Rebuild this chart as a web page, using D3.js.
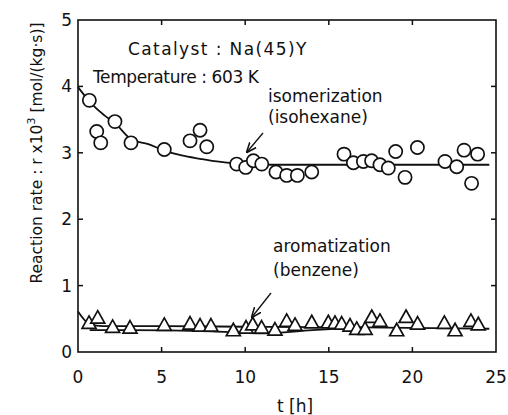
<!DOCTYPE html>
<html>
<head>
<meta charset="utf-8">
<script src="https://cdn.jsdelivr.net/npm/d3@7"></script>
<style>
  body { margin: 0; background: #fff; }
  svg { display: block; }
  text { font-family: "DejaVu Sans", sans-serif; fill: #111; }
</style>
</head>
<body>
<div id="viz"></div>
<script>
// isomerization (isohexane), circles
const isoT = [0.68, 1.12, 1.36, 2.21, 3.17, 5.16, 6.70, 7.30, 7.70, 9.49, 10.03, 10.49, 10.99, 11.84, 12.48, 13.12, 13.98,
  15.91, 16.47, 17.07, 17.56, 18.06, 18.56, 19.00, 19.56, 20.30, 21.95, 22.65, 23.09, 23.54, 23.90];
const isoR = [3.79, 3.32, 3.15, 3.47, 3.15, 3.05, 3.18, 3.34, 3.09, 2.83, 2.78, 2.88, 2.83, 2.71, 2.66, 2.66, 2.71,
  2.98, 2.85, 2.87, 2.88, 2.82, 2.77, 3.02, 2.63, 3.08, 2.87, 2.79, 3.04, 2.54, 2.98];

// aromatization (benzene), triangles
const aroT = [0.66, 1.18, 2.07, 3.11, 5.16, 6.70, 7.30, 7.95, 9.29, 10.05, 10.45, 10.98, 11.78, 12.48, 12.98, 13.98,
  14.97, 15.37, 15.77, 16.27, 16.67, 17.17, 17.57, 18.06, 19.06, 19.62, 20.31, 21.91, 22.55, 23.50, 23.94];
const aroR = [0.43, 0.51, 0.37, 0.36, 0.40, 0.42, 0.39, 0.39, 0.32, 0.36, 0.41, 0.36, 0.33, 0.46, 0.40, 0.44,
  0.44, 0.43, 0.42, 0.39, 0.34, 0.34, 0.52, 0.46, 0.32, 0.52, 0.42, 0.43, 0.32, 0.46, 0.41];

// fitted lines
const isoFitT = [0, 0.5, 1, 1.6, 2.2, 3.2, 4.2, 5.2, 6.2, 7.3, 8.3, 9.5, 10.5, 11.5, 24.6];
const isoFitR = [3.99, 3.83, 3.69, 3.56, 3.45, 3.2, 3.13, 3.03, 2.96, 2.91, 2.87, 2.84, 2.83, 2.82, 2.82];
const aroFitT = [0, 0.7, 1.5, 5, 10, 17, 24.6];
const aroFitR = [0.61, 0.42, 0.39, 0.39, 0.38, 0.37, 0.35];
const aroFit2T = [0.7, 3, 8, 11, 14, 17];
const aroFit2R = [0.33, 0.33, 0.31, 0.28, 0.33, 0.37];

const xTicks = [0, 5, 10, 15, 20, 25];
const yTicks = [0, 1, 2, 3, 4, 5];

const width = 508, height = 415;
const margin = { top: 20, right: 12, bottom: 63, left: 78 };

const svg = d3.select("#viz").append("svg")
  .attr("width", width)
  .attr("height", height);

const x = d3.scaleLinear().domain([0, 25]).range([margin.left, width - margin.right]);
const y = d3.scaleLinear().domain([0, 5]).range([height - margin.bottom, margin.top]);

// frame with inward ticks
svg.append("rect")
  .attr("x", x(0)).attr("y", y(5))
  .attr("width", x(25) - x(0)).attr("height", y(0) - y(5))
  .attr("fill", "none").attr("stroke", "#111").attr("stroke-width", 1.6);

const inner = xTicks.filter(d => d > 0 && d < 25);
const innerY = yTicks.filter(d => d > 0 && d < 5);
const tk = 5;
svg.append("g").selectAll("line").data(inner).join("line")
  .attr("x1", d => x(d)).attr("x2", d => x(d))
  .attr("y1", y(0)).attr("y2", y(0) - tk)
  .attr("stroke", "#111").attr("stroke-width", 1.5);
svg.append("g").selectAll("line").data(inner).join("line")
  .attr("x1", d => x(d)).attr("x2", d => x(d))
  .attr("y1", y(5)).attr("y2", y(5) + tk)
  .attr("stroke", "#111").attr("stroke-width", 1.5);
svg.append("g").selectAll("line").data(innerY).join("line")
  .attr("x1", x(0)).attr("x2", x(0) + tk)
  .attr("y1", d => y(d)).attr("y2", d => y(d))
  .attr("stroke", "#111").attr("stroke-width", 1.5);
svg.append("g").selectAll("line").data(innerY).join("line")
  .attr("x1", x(25)).attr("x2", x(25) - tk)
  .attr("y1", d => y(d)).attr("y2", d => y(d))
  .attr("stroke", "#111").attr("stroke-width", 1.5);

// tick labels
svg.append("g").selectAll("text").data(xTicks).join("text")
  .attr("x", d => x(d)).attr("y", y(0) + 31)
  .attr("text-anchor", "middle")
  .attr("font-size", "17px")
  .text(d => d);
svg.append("g").selectAll("text").data(yTicks).join("text")
  .attr("x", x(0) - 6).attr("y", d => y(d) + 6)
  .attr("text-anchor", "end")
  .attr("font-size", "17px")
  .text(d => d);

// axis titles
svg.append("text")
  .attr("x", 295).attr("y", 412)
  .attr("text-anchor", "middle")
  .attr("font-size", "17px")
  .text("t [h]");

const yl = svg.append("text")
  .attr("transform", "translate(42,153) rotate(-90)")
  .attr("text-anchor", "middle")
  .attr("font-size", "15.5px");
yl.append("tspan").text("Reaction rate : r x10");
yl.append("tspan").attr("dy", -7).attr("font-size", "11px").text("3");
yl.append("tspan").attr("dy", 7).text(" [mol/(kg·s)]");

// fit lines
const line = d3.line().x(d => x(d[0])).y(d => y(d[1])).curve(d3.curveMonotoneX);
[[isoFitT, isoFitR], [aroFitT, aroFitR], [aroFit2T, aroFit2R]].forEach(([ts, rs]) => {
  svg.append("path")
    .datum(ts.map((t, i) => [t, rs[i]]))
    .attr("d", line)
    .attr("fill", "none")
    .attr("stroke", "#111")
    .attr("stroke-width", 1.8);
});

// markers
svg.append("g").selectAll("circle")
  .data(isoT.map((t, i) => [t, isoR[i]]))
  .join("circle")
  .attr("cx", d => x(d[0])).attr("cy", d => y(d[1]))
  .attr("r", 6.6)
  .attr("fill", "#fff").attr("stroke", "#111").attr("stroke-width", 1.7);

const tri = "M0,-7.5L7,5L-7,5Z";
svg.append("g").selectAll("path")
  .data(aroT.map((t, i) => [t, aroR[i]]))
  .join("path")
  .attr("transform", d => `translate(${x(d[0])},${y(d[1])})`)
  .attr("d", tri)
  .attr("fill", "#fff").attr("stroke", "#111").attr("stroke-width", 1.7)
  .attr("stroke-linejoin", "miter");

// annotations: text, x, y, size, letter spacing
const notes = [
  ["Catalyst : Na(45)Y", 128, 55, 17, 1.4],
  ["Temperature : 603 K", 93, 83, 17, -0.4],
  ["isomerization", 268, 102, 17, 0],
  ["(isohexane)", 268, 123, 17, 0],
  ["aromatization", 273, 252, 17, 0],
  ["(benzene)", 273, 276, 17, 0]
];
svg.append("g").selectAll("text").data(notes).join("text")
  .attr("x", d => d[1]).attr("y", d => d[2])
  .attr("font-size", d => d[3] + "px")
  .attr("letter-spacing", d => d[4])
  .text(d => d[0]);

svg.append("defs").append("marker")
  .attr("id", "ah").attr("viewBox", "0 0 10 10")
  .attr("refX", 9).attr("refY", 5)
  .attr("markerWidth", 8).attr("markerHeight", 8)
  .attr("orient", "auto")
  .append("path").attr("d", "M0,1L10,5L0,9")
  .attr("fill", "none").attr("stroke", "#111").attr("stroke-width", 1.5);

[[263, 133, 247, 152], [271, 293, 252, 317]].forEach(a => {
  svg.append("line")
    .attr("x1", a[0]).attr("y1", a[1]).attr("x2", a[2]).attr("y2", a[3])
    .attr("stroke", "#111").attr("stroke-width", 1.3)
    .attr("marker-end", "url(#ah)");
});
</script>
</body>
</html>
